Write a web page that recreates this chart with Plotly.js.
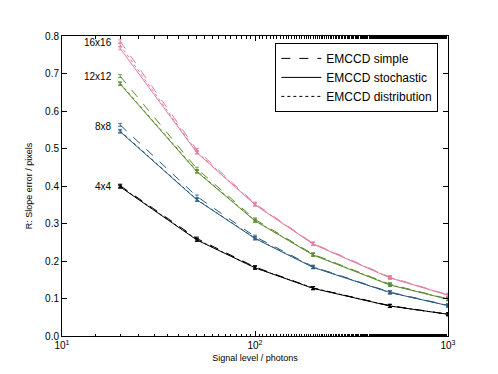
<!DOCTYPE html>
<html>
<head>
<meta charset="utf-8">
<script src="https://cdn.plot.ly/plotly-3.0.1.min.js"></script>
<style>body{margin:0;background:#fff}#plot{width:498px;height:374px}</style>
</head>
<body>
<div id="plot"></div>
<script>
// signal levels (photons)
var signal = [20, 50, 100, 200, 500, 1000];
var sizes = ['4x4', '8x8', '12x12', '16x16'];
var colors = ['#000000', '#2a5a80', '#5b8c30', '#e07c9c'];
var xTickVals = [10, 100, 1000];
var xTickText = ['10<sup>1</sup>', '10<sup>2</sup>', '10<sup>3</sup>'];

// slope error per model, one array per window size
var simple = [
    [0.401, 0.260, 0.184, 0.128, 0.081, 0.058],
    [0.563, 0.372, 0.265, 0.185, 0.117, 0.082],
    [0.693, 0.446, 0.311, 0.218, 0.138, 0.099],
    [0.786, 0.496, 0.353, 0.247, 0.157, 0.110]
];
var stochastic = [
    [0.398, 0.256, 0.182, 0.127, 0.080, 0.058],
    [0.545, 0.363, 0.260, 0.183, 0.116, 0.081],
    [0.672, 0.438, 0.307, 0.216, 0.136, 0.098],
    [0.767, 0.489, 0.350, 0.245, 0.155, 0.109]
];
var distribution = [
    [0.399, 0.257, 0.182, 0.128, 0.080, 0.058],
    [0.547, 0.364, 0.261, 0.184, 0.116, 0.081],
    [0.674, 0.440, 0.308, 0.217, 0.137, 0.098],
    [0.776, 0.491, 0.351, 0.246, 0.156, 0.109]
];
var labelY = [0.40, 0.56, 0.693, 0.784];

var models = [
    {name: 'EMCCD simple', data: simple, dash: 'dash'},
    {name: 'EMCCD stochastic', data: stochastic, dash: 'solid'},
    {name: 'EMCCD distribution', data: distribution, dash: 'dot'}
];

var traces = [];
models.forEach(function (m) {
    sizes.forEach(function (s, i) {
        // legend entries shown in black, so the first (black) set carries them
        traces.push({
            x: signal,
            y: m.data[i],
            type: 'scatter',
            mode: 'lines',
            name: m.name,
            legendgroup: m.name,
            showlegend: i === 0,
            line: {color: colors[i], width: 1, dash: m.dash},
            error_y: {type: 'constant', value: 0.004, color: colors[i], thickness: 0.8, width: 2}
        });
    });
});

var annotations = sizes.map(function (s, i) {
    return {
        x: Math.log10(18.6), y: labelY[i], xref: 'x', yref: 'y',
        text: s, showarrow: false, xanchor: 'right', yanchor: 'middle',
        font: {size: 10, color: '#000'}
    };
});

var layout = {
    width: 498, height: 374,
    margin: {l: 62, r: 50, t: 36, b: 38},
    paper_bgcolor: '#fff', plot_bgcolor: '#fff',
    font: {family: 'Liberation Sans, Arial, sans-serif', size: 10, color: '#000'},
    showlegend: true,
    legend: {
        x: 0.975, y: 0.977, xanchor: 'right', yanchor: 'top',
        bordercolor: '#000', borderwidth: 1, bgcolor: '#fff',
        font: {size: 12, color: '#000'}, tracegroupgap: 0, itemwidth: 40
    },
    xaxis: {
        type: 'log', range: [1, 3],
        title: {text: 'Signal level / photons', font: {size: 9, color: '#000'}, standoff: 4},
        tickvals: xTickVals, ticktext: xTickText,
        ticks: 'inside', ticklen: 5, tickcolor: '#000',
        minor: {ticks: 'inside', ticklen: 2.5, tickcolor: '#000', showgrid: false},
        showline: true, linecolor: '#000', linewidth: 1, mirror: 'ticks',
        showgrid: false, zeroline: false, tickfont: {size: 10, color: '#000'}
    },
    yaxis: {
        range: [0, 0.8], dtick: 0.1, tickformat: '.1f',
        title: {text: 'R: Slope error / pixels', font: {size: 9, color: '#000'}, standoff: 10},
        ticks: 'inside', ticklen: 5, tickcolor: '#000',
        showline: true, linecolor: '#000', linewidth: 1, mirror: 'ticks',
        showgrid: false, zeroline: false, tickfont: {size: 10, color: '#000'}
    },
    annotations: annotations
};

Plotly.newPlot('plot', traces, layout, {staticPlot: true});
</script>
</body>
</html>
